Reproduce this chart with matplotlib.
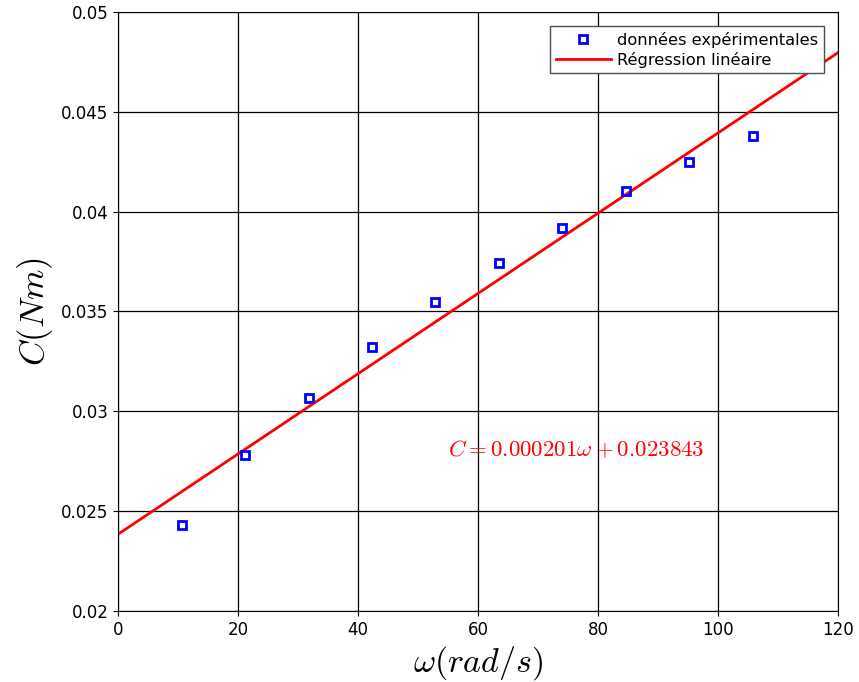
import matplotlib
matplotlib.use('Agg')
import matplotlib.pyplot as plt
from matplotlib.ticker import FuncFormatter
import numpy as np

plt.rcParams['mathtext.fontset'] = 'cm'

# mesures
omega = [10.6, 21.2, 31.8, 42.4, 52.9, 63.5, 74.0, 84.6, 95.2, 105.8]
couple = [0.02431, 0.02781, 0.03067, 0.03322, 0.03546, 0.03743, 0.03917, 0.04106, 0.04247, 0.04378]

# regression
pente = 0.000201
origine = 0.023843
x_fit = [0, 120]

fig = plt.figure(figsize=(8.59, 6.82), dpi=100)
ax = fig.add_axes([118/859, 1 - 611/682, 720/859, 599/682])

ax.plot(omega, couple, 's', mfc='none', mec='blue', mew=2, ms=6,
        label='données expérimentales', zorder=3)
ax.plot(x_fit, [pente*x + origine for x in x_fit], 'r-', lw=2,
        label='Régression linéaire', zorder=2)

ax.text(55, 0.02806, r'$C = 0.000201\omega + 0.023843$', color='red',
        fontsize=16.5, va='center', ha='left')

ax.set_xlim(0, 120)
ax.set_ylim(0.02, 0.05)
ax.set_xticks(np.arange(0, 121, 20))
ax.set_yticks([0.02, 0.025, 0.03, 0.035, 0.04, 0.045, 0.05])
ax.yaxis.set_major_formatter(FuncFormatter(lambda v, p: '%g' % round(v, 4)))
ax.tick_params(labelsize=12)
ax.grid(True, color='black', lw=0.9)
ax.set_axisbelow(True)

ax.set_xlabel(r'$\omega(rad/s)$', fontsize=24.5)
ax.set_ylabel(r'$C(Nm)$', fontsize=25)

leg = ax.legend(loc='upper right', fontsize=11.7, fancybox=False,
                edgecolor='0.3', framealpha=1, borderaxespad=0.85,
                handlelength=3.4, handletextpad=0.4, labelspacing=0.25,
                borderpad=0.35)
leg.get_frame().set_linewidth(1.0)

fig.savefig('out.png', dpi=100)
